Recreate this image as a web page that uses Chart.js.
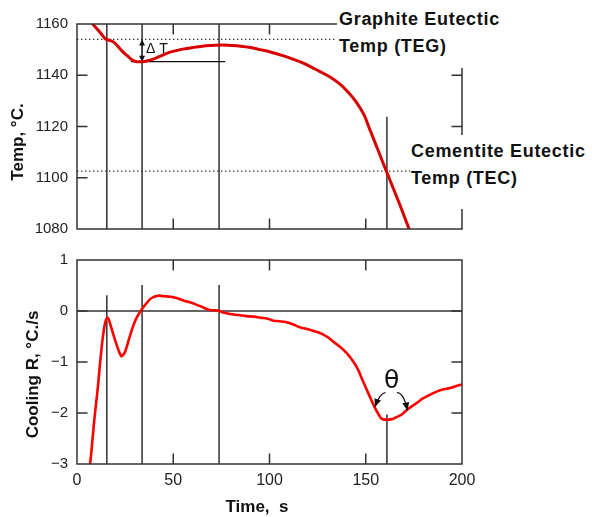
<!DOCTYPE html>
<html>
<head>
<meta charset="utf-8">
<script src="https://cdn.jsdelivr.net/npm/chart.js@4.4.1/dist/chart.umd.min.js"></script>
<style>
    body { margin: 0; background: #fff; }
    #wrap { position: relative; width: 592px; height: 517px; overflow: hidden; }
    canvas { position: absolute; left: 0; top: 0; }
    .note {
        position: absolute; background: #fff; color: #111; white-space: nowrap;
        font: bold 18px "Liberation Sans", Arial, sans-serif;
        letter-spacing: 0.7px; line-height: 27px;
    }
</style>
</head>
<body>
<div id="wrap">
    <canvas id="top-chart" width="592" height="517"></canvas>
    <canvas id="bottom-chart" width="592" height="517"></canvas>
    <div class="note" style="left:337px; top:0; width:255px; height:62px; padding:6px 0 0 2px;">Graphite Eutectic<br>Temp (TEG)</div>
    <div class="note" style="left:410px; top:135px; width:182px; height:71px; padding:3px 0 0 1px;">Cementite Eutectic<br>Temp (TEC)</div>
</div>
<script>
// cooling curve, temperature (top)
const timeTop = [7, 8.2, 10, 11.6, 13.5, 15, 17, 18.5, 20, 22, 24, 25.5, 27, 29, 31, 34, 37, 41, 44, 48, 52, 55,
    60, 65, 70, 75, 80, 85, 90, 95, 100, 105, 110, 116, 121, 126, 131, 136, 141, 145, 149, 152, 156, 161, 166, 170, 173];
const tempTop = [1161.2, 1160, 1158.4, 1157.1, 1155.3, 1154.1, 1153.6, 1153.2, 1152.3, 1150.6, 1149, 1148, 1147,
    1145.8, 1145.3, 1145.3, 1145.7, 1146.7, 1147.7, 1148.9, 1149.7, 1150.2, 1150.8, 1151.3, 1151.6, 1151.8, 1151.6,
    1151.3, 1150.8, 1150, 1149.2, 1148.1, 1146.9, 1145.2, 1143.5, 1141.5, 1139.5, 1136.9, 1133.3, 1129.6, 1124.7,
    1119, 1111.5, 1102, 1092.7, 1085, 1079];

// cooling rate (bottom)
const timeBottom = [6.5, 7.5, 9, 10.7, 12.5, 14.2, 15.6, 16.5, 17.7, 20.3, 22.9, 24, 25.1, 28, 30.6, 33.4, 36.7, 39,
    41.9, 45, 48.8, 52, 55.7, 58.7, 61, 65.6, 69, 73.4, 76, 79.5, 84, 88.1, 92, 95.1, 99, 102, 105, 108.9, 112, 115.8,
    119, 122.8, 126.2, 129.7, 133.1, 136.6, 140, 143.5, 146, 147.9, 151.3, 154.8, 157, 158.2, 160, 163.5, 166, 168.7,
    171, 173.9, 177, 179.9, 183, 186.8, 190, 193.8, 197, 200];
const rateBottom = [-3.1, -2.75, -2.13, -1.54, -0.83, -0.31, -0.13, -0.17, -0.31, -0.63, -0.88, -0.86, -0.79, -0.43,
    -0.16, 0.02, 0.18, 0.26, 0.30, 0.29, 0.28, 0.25, 0.2, 0.17, 0.14, 0.07, 0.02, 0.01, -0.03, -0.06, -0.08, -0.1,
    -0.11, -0.13, -0.15, -0.19, -0.2, -0.22, -0.26, -0.32, -0.35, -0.39, -0.43, -0.5, -0.6, -0.70, -0.82, -0.99,
    -1.15, -1.32, -1.61, -1.90, -2.05, -2.11, -2.13, -2.12, -2.08, -2.03, -1.95, -1.87, -1.79, -1.71, -1.65, -1.58,
    -1.54, -1.51, -1.47, -1.44];

const timeTicks = [0, 50, 100, 150, 200];
const tempTicks = [1080, 1100, 1120, 1140, 1160];
const rateTicks = [-3, -2, -1, 0, 1];

// reference markers
const markerTimes = [15.5, 33.8, 73.8];
const markerRateTops = [0.31, 0.51, 0.51];
const tecTime = 161;
const tecTempTop = 1123.8;
const tecRateTop = -2.03;
const tegTemp = 1154;
const tecTemp = 1102.6;
const minTemp = 1145.3;
const minLineTimes = [28, 77];
const thetaLeft = { start: [160.3, -1.6], ctrl: [157.5, -1.6], tip: [154.8, -1.88] };
const thetaRight = { start: [166.2, -1.6], ctrl: [169.8, -1.6], tip: [171.6, -1.95] };

const INK = '#222';
const TICK = 10.5;

function arrowHead(ctx, fx, fy, tx, ty, len, wid) {
    const ang = Math.atan2(ty - fy, tx - fx);
    ctx.beginPath();
    ctx.moveTo(tx, ty);
    ctx.lineTo(tx - len * Math.cos(ang) + wid * Math.sin(ang), ty - len * Math.sin(ang) - wid * Math.cos(ang));
    ctx.lineTo(tx - len * Math.cos(ang) - wid * Math.sin(ang), ty - len * Math.sin(ang) + wid * Math.cos(ang));
    ctx.closePath();
    ctx.fill();
}

function drawFrame(chart, xTicks, yTicks) {
    const { ctx, chartArea: a, scales: { x, y } } = chart;
    ctx.save();
    ctx.strokeStyle = '#333';
    ctx.lineWidth = 1.5;
    ctx.strokeRect(a.left, a.top, a.right - a.left, a.bottom - a.top);
    ctx.beginPath();
    xTicks.slice(1, -1).forEach(v => {
        const px = x.getPixelForValue(v);
        ctx.moveTo(px, a.top); ctx.lineTo(px, a.top + TICK);
        ctx.moveTo(px, a.bottom); ctx.lineTo(px, a.bottom - TICK);
    });
    yTicks.slice(1, -1).forEach(v => {
        const py = y.getPixelForValue(v);
        ctx.moveTo(a.left, py); ctx.lineTo(a.left + TICK, py);
        ctx.moveTo(a.right, py); ctx.lineTo(a.right - TICK, py);
    });
    ctx.stroke();
    ctx.restore();
}

function sideTitle(ctx, text, cx, cy) {
    ctx.save();
    ctx.translate(cx, cy);
    ctx.rotate(-Math.PI / 2);
    ctx.font = 'bold 17px "Liberation Sans", Arial, sans-serif';
    ctx.fillStyle = '#111';
    ctx.textAlign = 'center';
    ctx.textBaseline = 'middle';
    ctx.fillText(text, 0, 0);
    ctx.restore();
}

const topDecor = {
    id: 'topDecor',
    beforeDatasetsDraw(chart) {
        const { ctx, chartArea: a, scales: { x, y } } = chart;
        ctx.save();
        ctx.strokeStyle = '#111';
        ctx.lineWidth = 1.3;
        ctx.beginPath();
        markerTimes.forEach(t => {
            const px = x.getPixelForValue(t);
            ctx.moveTo(px, a.top); ctx.lineTo(px, a.bottom);
        });
        const tx = x.getPixelForValue(tecTime);
        ctx.moveTo(tx, y.getPixelForValue(tecTempTop)); ctx.lineTo(tx, a.bottom);
        const my = y.getPixelForValue(minTemp);
        ctx.moveTo(x.getPixelForValue(minLineTimes[0]), my);
        ctx.lineTo(x.getPixelForValue(minLineTimes[1]), my);
        ctx.stroke();

        ctx.setLineDash([1.4, 2.6]);
        ctx.strokeStyle = '#333';
        ctx.beginPath();
        [tegTemp, tecTemp].forEach(v => {
            const py = y.getPixelForValue(v);
            ctx.moveTo(a.left, py); ctx.lineTo(a.right, py);
        });
        ctx.stroke();
        ctx.setLineDash([]);

        // delta T arrow
        const ax = x.getPixelForValue(markerTimes[1]);
        const y1 = y.getPixelForValue(tegTemp), y2 = y.getPixelForValue(minTemp);
        ctx.fillStyle = '#111';
        ctx.beginPath();
        ctx.moveTo(ax, y1 + 4); ctx.lineTo(ax, y2 - 4);
        ctx.stroke();
        arrowHead(ctx, ax, y2, ax, y1, 6, 3);
        arrowHead(ctx, ax, y1, ax, y2, 6, 3);
        ctx.font = '14px "Liberation Sans", Arial, sans-serif';
        ctx.textBaseline = 'middle';
        ctx.fillText('Δ T', x.getPixelForValue(35.8), y.getPixelForValue(1150.3));
        ctx.restore();
    },
    afterDraw(chart) {
        drawFrame(chart, timeTicks, tempTicks);
        sideTitle(chart.ctx, 'Temp, °C.', 18.5, 142);
    }
};

const bottomDecor = {
    id: 'bottomDecor',
    beforeDatasetsDraw(chart) {
        const { ctx, chartArea: a, scales: { x, y } } = chart;
        ctx.save();
        ctx.strokeStyle = '#111';
        ctx.lineWidth = 1.3;
        ctx.beginPath();
        markerTimes.forEach((t, i) => {
            const px = x.getPixelForValue(t);
            ctx.moveTo(px, y.getPixelForValue(markerRateTops[i])); ctx.lineTo(px, a.bottom);
        });
        const tx = x.getPixelForValue(tecTime);
        ctx.moveTo(tx, y.getPixelForValue(tecRateTop)); ctx.lineTo(tx, a.bottom);
        ctx.stroke();
        ctx.strokeStyle = '#333';
        ctx.lineWidth = 1.5;
        ctx.beginPath();
        const zy = y.getPixelForValue(0);
        ctx.moveTo(a.left, zy); ctx.lineTo(a.right, zy);
        ctx.stroke();
        ctx.restore();
    },
    afterDraw(chart) {
        const { ctx, scales: { x, y } } = chart;
        drawFrame(chart, timeTicks, rateTicks);
        sideTitle(ctx, 'Cooling R, °C./s', 33.3, 374.5);

        ctx.save();
        ctx.fillStyle = '#111';
        ctx.font = 'bold 17px "Liberation Sans", Arial, sans-serif';
        ctx.textAlign = 'center';
        ctx.textBaseline = 'middle';
        ctx.fillText('Time,  s', 257, 507);

        ctx.font = '25px "DejaVu Sans", sans-serif';
        ctx.fillText('θ', x.getPixelForValue(163.4), y.getPixelForValue(-1.38));

        ctx.strokeStyle = '#111';
        ctx.lineWidth = 1.3;
        [thetaLeft, thetaRight].forEach(arc => {
            const p = pt => [x.getPixelForValue(pt[0]), y.getPixelForValue(pt[1])];
            const s = p(arc.start), c = p(arc.ctrl), t = p(arc.tip);
            ctx.beginPath();
            ctx.moveTo(s[0], s[1]);
            ctx.quadraticCurveTo(c[0], c[1], t[0], t[1]);
            ctx.stroke();
            arrowHead(ctx, c[0], c[1], t[0], t[1], 8, 3.5);
        });
        ctx.restore();
    }
};

function tickFont(size) {
    return { family: '"Liberation Sans", Arial, sans-serif', size: size };
}

function buildChart(canvasId, xs, ys, color, width, yTicks, padding, showX, decor) {
    const data = xs.map((t, i) => ({ x: t, y: ys[i] }));
    return new Chart(document.getElementById(canvasId), {
        type: 'line',
        data: {
            datasets: [{
                data: data,
                borderColor: color,
                borderWidth: width,
                pointRadius: 0,
                tension: 0.4,
                fill: false
            }]
        },
        options: {
            responsive: false,
            devicePixelRatio: 1,
            animation: false,
            layout: { padding: padding },
            plugins: { legend: { display: false }, tooltip: { enabled: false } },
            scales: {
                x: {
                    type: 'linear',
                    min: timeTicks[0],
                    max: timeTicks[timeTicks.length - 1],
                    display: showX,
                    afterBuildTicks: s => { s.ticks = timeTicks.map(v => ({ value: v })); },
                    afterFit: s => { s.height = showX ? 53 : 0; },
                    grid: { display: false, drawTicks: false },
                    border: { display: false },
                    ticks: { font: tickFont(16), color: INK, padding: 7, maxRotation: 0 }
                },
                y: {
                    min: yTicks[0],
                    max: yTicks[yTicks.length - 1],
                    afterBuildTicks: s => { s.ticks = yTicks.map(v => ({ value: v })); },
                    afterFit: s => { s.width = 77; },
                    grid: { display: false, drawTicks: false },
                    border: { display: false },
                    ticks: {
                        font: tickFont(15), color: INK, padding: 9,
                        callback: v => String(v).replace('-', '\u2212')
                    }
                }
            }
        },
        plugins: [decor]
    });
}

buildChart('top-chart', timeTop, tempTop, '#d80000', 3, tempTicks,
    { left: 0, right: 130, top: 24, bottom: 288 }, false, topDecor);
buildChart('bottom-chart', timeBottom, rateBottom, '#ff0000', 2.6, rateTicks,
    { left: 0, right: 130, top: 260, bottom: 0 }, true, bottomDecor);
</script>
</body>
</html>
